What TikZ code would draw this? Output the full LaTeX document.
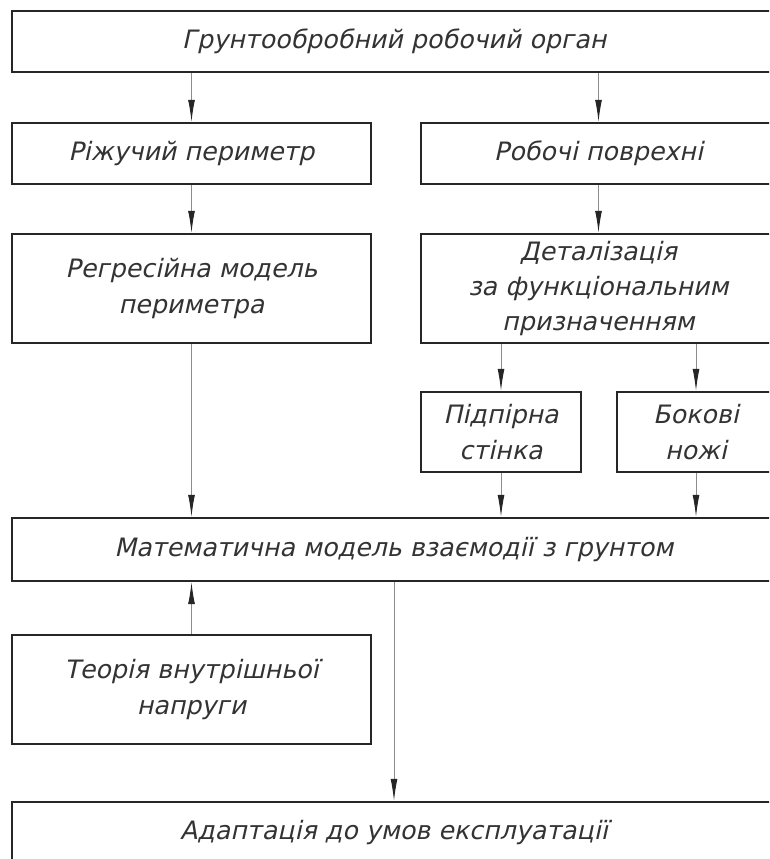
\documentclass[tikz,border=0pt]{standalone}
\usepackage{fontspec}
\usetikzlibrary{arrows.meta}
\newfontfamily\gost{DejaVu Sans}[FakeSlant=0.22]
\newcommand\px{0.025cm}

\begin{document}
\begin{tikzpicture}[x=\px,y=-\px,
  blk/.style={draw=black!85,line width=1.5pt,fill=white,inner sep=0pt,align=center,
    text=black!80,font=\gost\fontsize{18}{25}\selectfont},
  arr/.style={draw=black!45,line width=0.7pt,-{Latex[length=0.55cm,width=0.17cm,fill=black!85,color=black!85]}}]

\useasboundingbox (0,0) rectangle (769,859);
\clip (0,0) rectangle (769,859);

% top row
\node[blk,minimum width=764*\px,minimum height=61*\px] (v1) at (394,41.5) {Грунтообробний робочий орган};

\node[blk,minimum width=359*\px,minimum height=61*\px] (v2) at (191.5,153.5) {Ріжучий периметр};
\node[blk,minimum width=355*\px,minimum height=61*\px] (v3) at (598.5,153.5) {Робочі поврехні};

\node[blk,minimum width=359*\px,minimum height=109*\px] (v4) at (191.5,288.5) {Регресійна модель\\периметра};
\node[blk,minimum width=355*\px,minimum height=109*\px] (v5) at (598.5,288.5) {Деталізація\\за функціональним\\призначенням};

\node[blk,minimum width=160*\px,minimum height=80*\px] (v6) at (501,432) {Підпірна\\стінка};
\node[blk,minimum width=158*\px,minimum height=80*\px] (v7) at (696,432) {Бокові\\ножі};

\node[blk,minimum width=764*\px,minimum height=63*\px] (v8) at (394,549.5) {Математична модель взаємодії з грунтом};

\node[blk,minimum width=359*\px,minimum height=109*\px] (v9) at (191.5,689.5) {Теорія внутрішньої\\напруги};

\node[blk,minimum width=764*\px,minimum height=62*\px] (v10) at (394,833) {Адаптація до умов експлуатації};

\draw[arr] (v1.south -| v2) -- (v2.north);
\draw[arr] (v1.south -| v3) -- (v3.north);
\draw[arr] (v2) -- (v4);
\draw[arr] (v3) -- (v5);
\draw[arr] (v5.south -| v6) -- (v6.north);
\draw[arr] (v5.south -| v7) -- (v7.north);
\draw[arr] (v4.south) -- (v4.south |- v8.north);
\draw[arr] (v6.south) -- (v6.south |- v8.north);
\draw[arr] (v7.south) -- (v7.south |- v8.north);
\draw[arr] (v9.north) -- (v9.north |- v8.south);
\draw[arr] (v8) -- (v10);
\end{tikzpicture}
\end{document}
